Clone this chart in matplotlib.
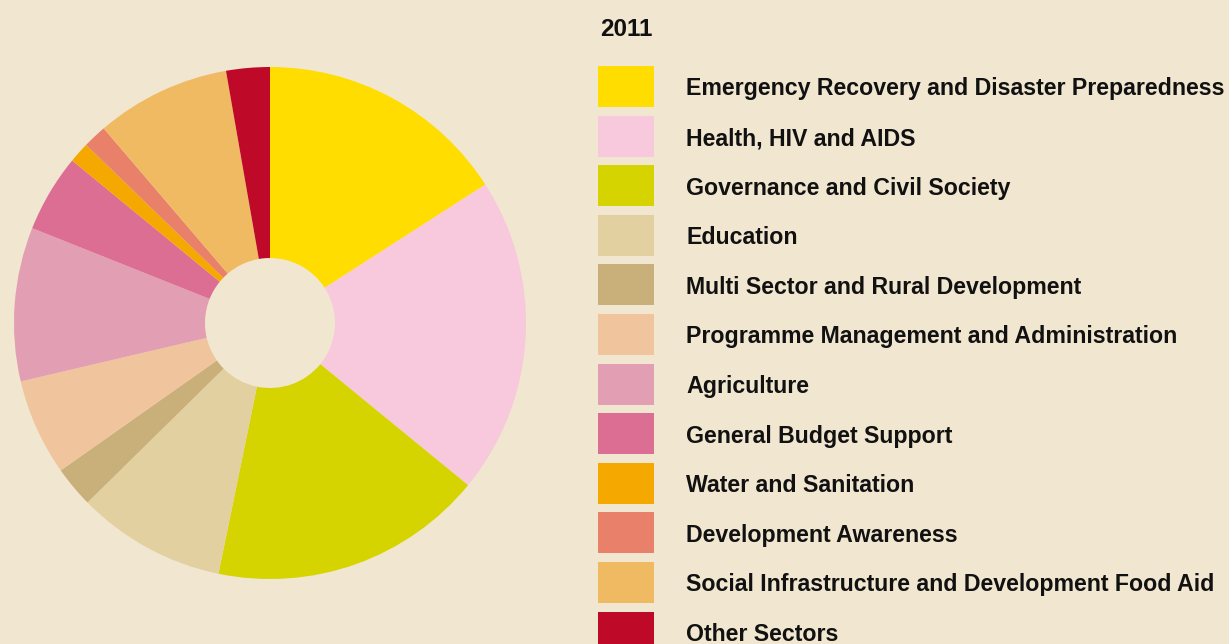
import matplotlib
matplotlib.use("Agg")
import matplotlib.pyplot as plt
from matplotlib.patches import Rectangle

categories = [
    "Emergency Recovery and Disaster Preparedness",
    "Health, HIV and AIDS",
    "Governance and Civil Society",
    "Education",
    "Multi Sector and Rural Development",
    "Programme Management and Administration",
    "Agriculture",
    "General Budget Support",
    "Water and Sanitation",
    "Development Awareness",
    "Social Infrastructure and Development Food Aid",
    "Other Sectors",
]
values = [15.9, 20.0, 17.3, 9.4, 2.6, 6.1, 9.7, 4.9, 1.3, 1.5, 8.5, 2.75]
colors = ["#FFDD00", "#F8C8DC", "#D6D400", "#E2D0A0", "#C9B07A", "#F0C49C",
          "#E29EB2", "#DC6E94", "#F5A800", "#E8806A", "#F0BA62", "#BE0A28"]
title = "2011"

BG = "#F1E6D0"
W, H = 1229, 644
fig = plt.figure(figsize=(W / 100, H / 100), dpi=100, facecolor=BG)

cx, cy, r = 270, 323, 256
ax = fig.add_axes([(cx - r) / W, (H - cy - r) / H, 2 * r / W, 2 * r / H])
ax.set_facecolor(BG)
ax.pie(values, colors=colors, startangle=90, counterclock=False,
       wedgeprops=dict(width=1 - 65 / 256, edgecolor="none"), radius=1)
ax.set_xlim(-1, 1)
ax.set_ylim(-1, 1)
ax.set_aspect("equal")
ax.axis("off")

font = dict(family=["Liberation Sans", "DejaVu Sans"], fontweight="bold", color="#111111")
fig.text(600 / W, 1 - 29 / H, title, fontsize=17.5, va="center", ha="left", **font)

top0, step, sq_w, sq_h = 66, 49.6, 56, 41
for i, (lab, col) in enumerate(zip(categories, colors)):
    y_top = top0 + step * i
    fig.patches.append(Rectangle((598 / W, 1 - (y_top + sq_h) / H), sq_w / W, sq_h / H,
                                 transform=fig.transFigure, facecolor=col, edgecolor="none"))
    fig.text(686 / W, 1 - (y_top + sq_h / 2 + 2.5) / H, lab, fontsize=16.7,
             va="center", ha="left", **font)

fig.savefig("out.png", dpi=100, facecolor=BG)
